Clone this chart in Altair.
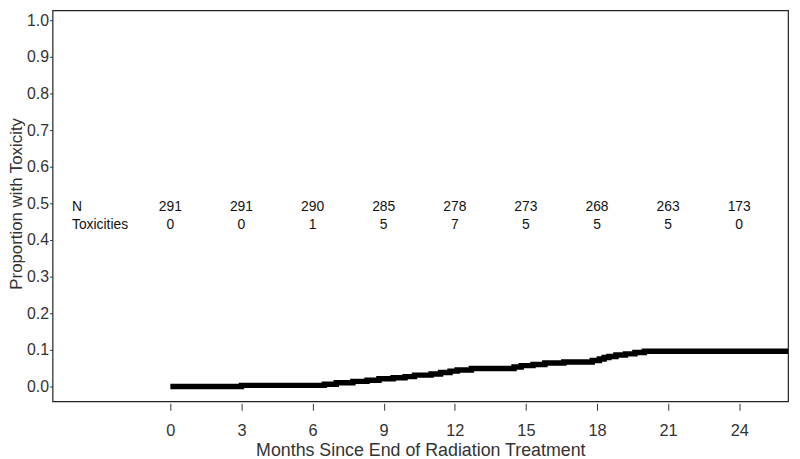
import altair as alt
import pandas as pd

# Cumulative incidence curve (step function)
months = [0.0, 3.0, 6.5, 7.0, 7.7, 8.3, 8.8, 9.4, 9.9, 10.3, 11.0, 11.4, 11.8, 12.1,
          12.7, 14.5, 14.8, 15.3, 15.8, 16.6, 17.8, 18.1, 18.3, 18.5, 18.8, 19.2,
          19.6, 20.0, 26.06]
proportion = [0.000, 0.003, 0.006, 0.010, 0.014, 0.017, 0.021, 0.024, 0.027, 0.031,
              0.034, 0.038, 0.042, 0.045, 0.049, 0.053, 0.057, 0.060, 0.064, 0.067,
              0.071, 0.075, 0.079, 0.082, 0.086, 0.089, 0.093, 0.096, 0.096]

# Risk table
table_months = [0, 3, 6, 9, 12, 15, 18, 21, 24]
n_at_risk = [291, 291, 290, 285, 278, 273, 268, 263, 173]
toxicities = [0, 0, 1, 5, 7, 5, 5, 5, 0]
row_labels = ["N", "Toxicities"]

x_ticks = [0, 3, 6, 9, 12, 15, 18, 21, 24]
y_ticks = [0.0, 0.1, 0.2, 0.3, 0.4, 0.5, 0.6, 0.7, 0.8, 0.9, 1.0]

curve = pd.DataFrame({"month": months, "prop": proportion})
tab = pd.DataFrame({
    "month": table_months * 2,
    "prop": [0.489] * len(table_months) + [0.442] * len(table_months),
    "label": [str(v) for v in n_at_risk] + [str(v) for v in toxicities],
})
rows = pd.DataFrame({"month": [-4.15, -4.15], "prop": [0.489, 0.442], "label": row_labels})

FONT = "Liberation Sans"
xscale = alt.Scale(domain=[-4.97, 26.06], nice=False, zero=False)
yscale = alt.Scale(domain=[-0.0405, 1.027], nice=False, zero=False)

xaxis = alt.Axis(
    values=x_ticks, format="d", title="Months Since End of Radiation Treatment",
    grid=False, domain=False, tickSize=7, offset=2, tickColor="#333",
    labelFontSize=16.5, labelFont=FONT, labelColor="#333", labelPadding=13,
    labelOverlap=False,
    titleFontSize=18, titleFont=FONT, titleColor="#333", titleFontWeight="normal",
    titleY=53, titleBaseline="alphabetic",
)
yaxis = alt.Axis(
    values=y_ticks, tickCount=11, format=".1f", title="Proportion with Toxicity",
    grid=False, domain=False, tickSize=3, tickColor="#333",
    labelFontSize=16, labelFont=FONT, labelColor="#333", labelPadding=1,
    labelOverlap=False, labelFlush=False,
    titleFontSize=17, titleFont=FONT, titleColor="#333", titleFontWeight="normal",
    titleX=-44, titleY=195, titleAngle=-90, titleAlign="center", titleBaseline="top",
)

X = alt.X("month:Q", scale=xscale, axis=xaxis)
Y = alt.Y("prop:Q", scale=yscale, axis=yaxis)

line = alt.Chart(curve).mark_line(
    color="black", strokeWidth=5.5, interpolate="step-after", strokeCap="butt"
).encode(x=X, y=Y)

nums = alt.Chart(tab).mark_text(
    fontSize=14, font=FONT, color="#111", align="center", baseline="middle"
).encode(x=X, y=Y, text="label:N")

labels = alt.Chart(rows).mark_text(
    fontSize=14, font=FONT, color="#111", align="left", baseline="middle"
).encode(x=X, y=Y, text="label:N")

chart = alt.layer(line, nums, labels).properties(
    width=743, height=395,
    autosize=alt.AutoSizeParams(type="none"),
    padding={"left": 45, "top": 0, "right": 4, "bottom": 64},
).configure(
    background="white",
    view=alt.ViewConfig(stroke="#222", strokeWidth=1.2),
)

chart.save("out.html", embed_options={"renderer": "svg", "actions": False})
